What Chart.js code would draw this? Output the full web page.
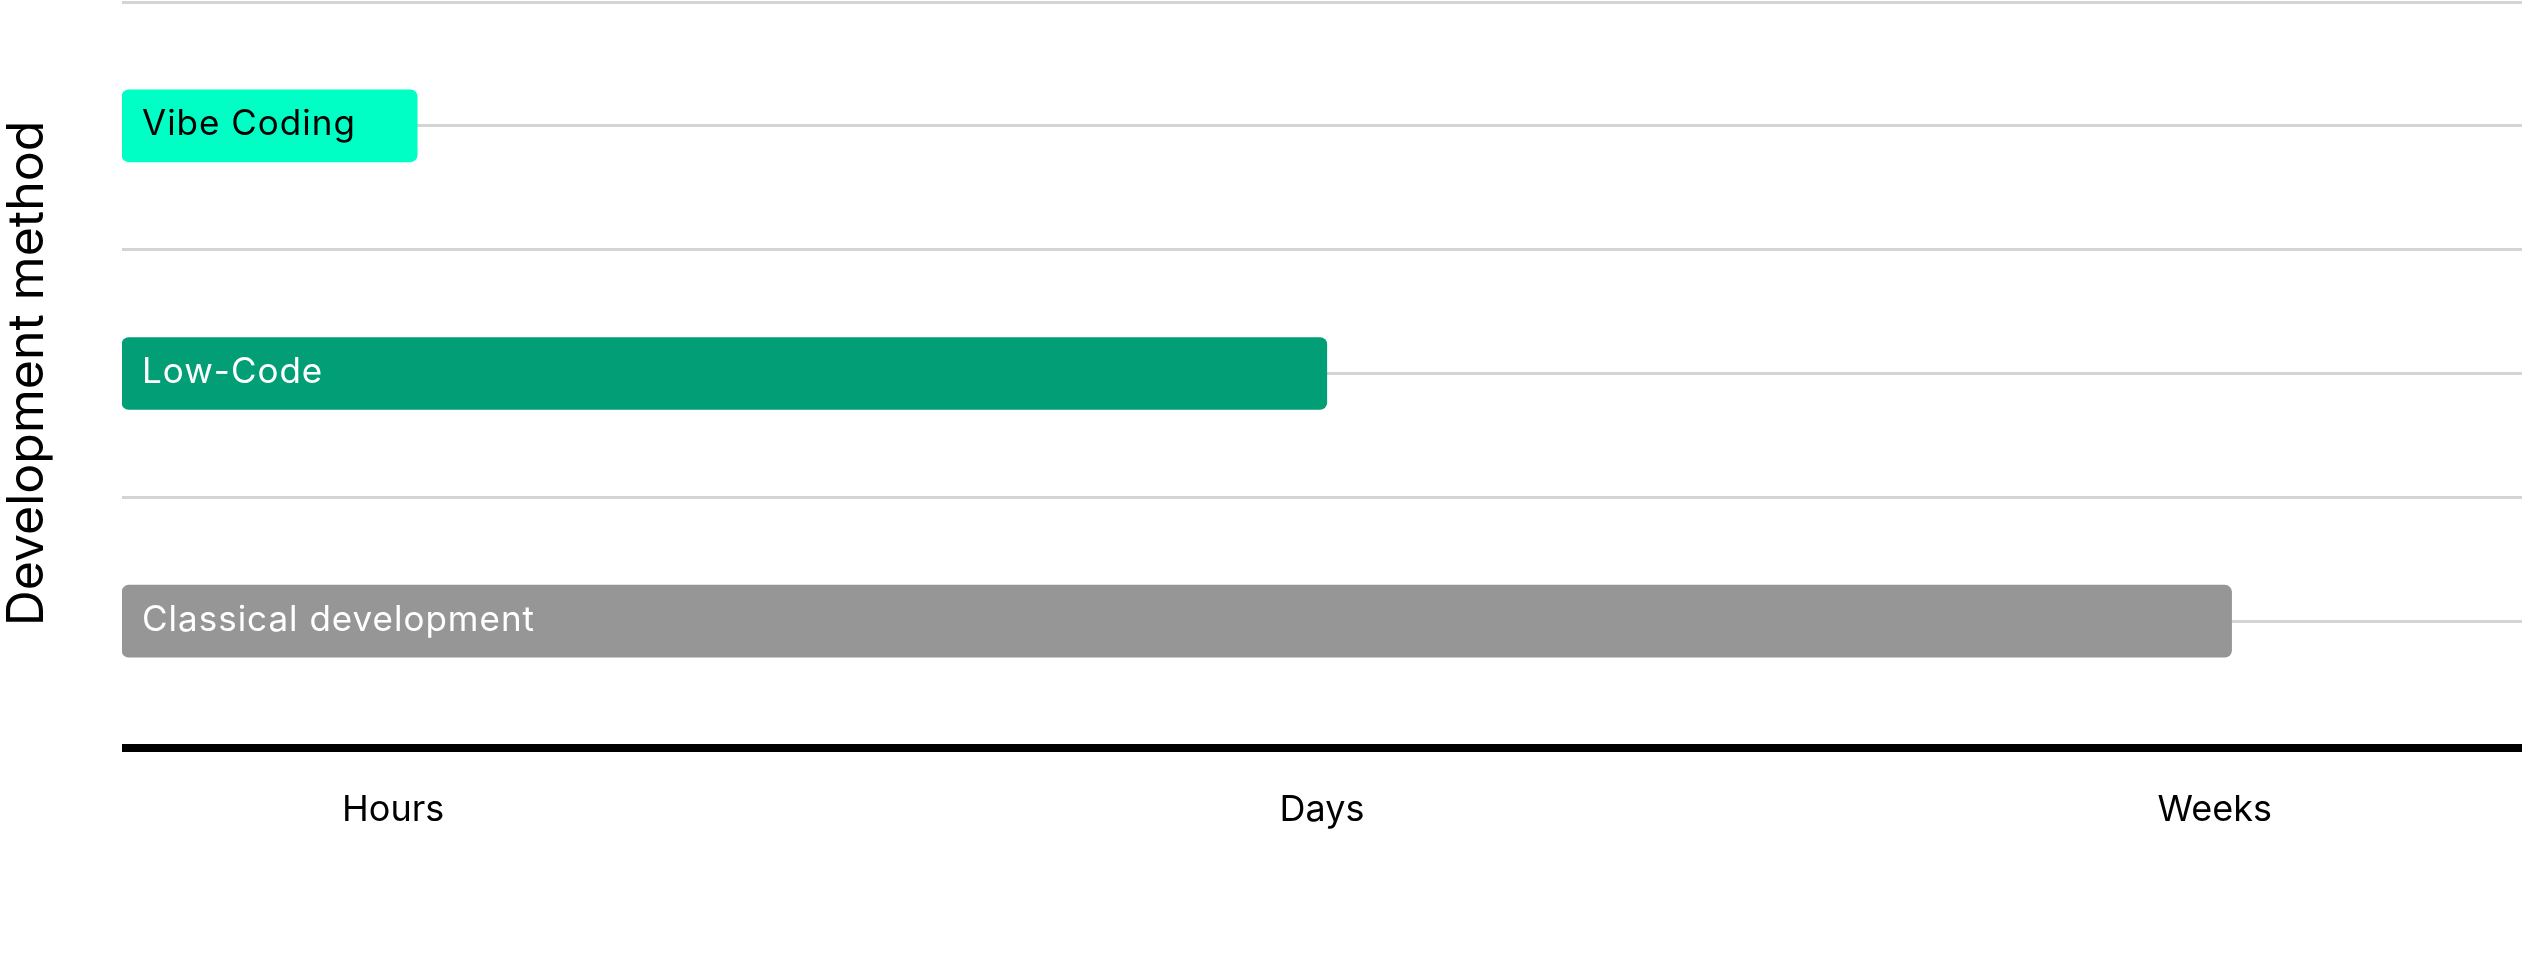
<!DOCTYPE html>
<html>
<head>
<meta charset="utf-8">
<script src="https://cdn.jsdelivr.net/npm/chart.js@4.4.1/dist/chart.umd.min.js"></script>
<style>
  html, body { margin: 0; padding: 0; background: #ffffff; }
  #wrap { width: 2522px; height: 965px; position: relative; }
</style>
</head>
<body>
<div id="wrap"><canvas id="c"></canvas></div>
<script>
// ---- data ----
const categories = ['Vibe Coding', 'Low-Code', 'Classical development'];
const categoryPositions = [2, 1, 0];
const durationValues = [12.3, 50.2, 87.9];
const barColors = ['#00ffc4', '#029e76', '#969696'];
const labelColors = ['#000000', '#ffffff', '#ffffff'];
const xTickValues = [11.3, 50, 87.2];
const xTickLabels = ['Hours', 'Days', 'Weeks'];
const yGridValues = [-0.5, 0, 0.5, 1, 1.5, 2, 2.5];
const yAxisTitle = 'Development method';

const FONT = 'Inter, "Open Sans", sans-serif';

const points = categories.map((c, i) => ({ x: durationValues[i], y: categoryPositions[i] }));

const axisLinePlugin = {
  id: 'axisLine',
  beforeDatasetsDraw(chart) {
    const { ctx, chartArea } = chart;
    ctx.save();
    ctx.fillStyle = '#000000';
    ctx.fillRect(chartArea.left, chartArea.bottom - 1, chartArea.right - chartArea.left, 8);
    ctx.restore();
  }
};

const barLabelPlugin = {
  id: 'barLabels',
  afterDatasetsDraw(chart) {
    const meta = chart.getDatasetMeta(0);
    const ctx = chart.ctx;
    ctx.save();
    ctx.font = '400 35px ' + FONT;
    try { ctx.letterSpacing = '1px'; } catch (e) {}
    ctx.textBaseline = 'middle';
    ctx.textAlign = 'left';
    meta.data.forEach((bar, i) => {
      ctx.fillStyle = labelColors[i];
      ctx.fillText(categories[i], bar.base + 20, bar.y - 1);
    });
    ctx.restore();
  }
};

new Chart(document.getElementById('c'), {
  type: 'bar',
  data: {
    datasets: [{
      data: points,
      backgroundColor: barColors,
      borderRadius: 7,
      borderSkipped: false,
      barThickness: 72
    }]
  },
  options: {
    indexAxis: 'y',
    responsive: true,
    maintainAspectRatio: false,
    animation: false,
    layout: { padding: { top: 2, right: 0, left: 0, bottom: 0 } },
    plugins: { legend: { display: false }, tooltip: { enabled: false } },
    scales: {
      x: {
        type: 'linear',
        min: 0,
        max: 100,
        offset: false,
        grid: { display: false, drawTicks: false },
        border: { display: false },
        afterBuildTicks(scale) {
          scale.ticks = xTickValues.map(v => ({ value: v }));
        },
        afterFit(scale) { scale.height = 965 - 745; },
        ticks: {
          padding: 44,
          color: '#000000',
          font: { family: FONT, size: 36, weight: '400' },
          callback(value, index) { return xTickLabels[index]; }
        }
      },
      y: {
        type: 'linear',
        min: -0.5,
        max: 2.5,
        offset: false,
        grid: {
          display: true,
          offset: false,
          color: (c) => (c.tick && c.tick.value === -0.5 ? 'rgba(0,0,0,0)' : '#d4d4d4'),
          lineWidth: 3,
          drawTicks: false
        },
        border: { display: false },
        ticks: { display: false },
        afterBuildTicks(scale) {
          scale.ticks = yGridValues.map(v => ({ value: v }));
        },
        afterFit(scale) { scale.width = 122; },
        title: {
          display: true,
          text: yAxisTitle,
          color: '#000000',
          padding: { top: 3, bottom: 0 },
          font: { family: FONT, size: 50, weight: '400', lineHeight: 1 }
        }
      }
    }
  },
  plugins: [axisLinePlugin, barLabelPlugin]
});
</script>
</body>
</html>
